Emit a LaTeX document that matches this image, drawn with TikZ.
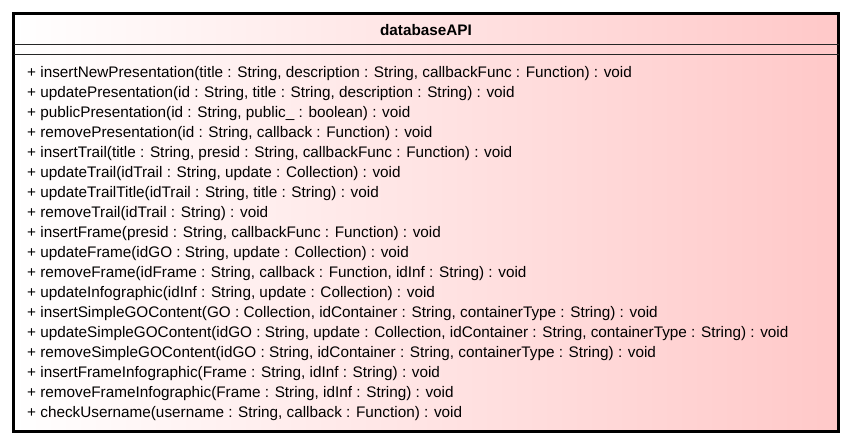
\documentclass[tikz,border=0pt]{standalone}
\usepackage{fontspec}
\setmainfont{Liberation Sans}
\begin{document}
\begin{tikzpicture}[x=1pt,y=-1pt,
  meth/.style={anchor=base west,inner sep=0pt,font=\fontsize{15.3}{18}\selectfont},
  ttl/.style={anchor=base,inner sep=0pt,font=\fontsize{15.3}{18}\selectfont\bfseries},
  sep/.style={line width=1.3pt,black!85}]
\useasboundingbox (0,0) rectangle (852,445);
\shade[left color=white,right color={rgb,255:red,255;green,200;blue,200}] (13.5,13.5) rectangle (838.5,431.5);
\node[draw=none,minimum width=825pt,minimum height=418pt,anchor=north west,inner sep=0pt] (box) at (13.5,13.5) {};
\draw[line width=3pt] (box.north west) rectangle (box.south east);
\coordinate (s1l) at (13.5,44.5); \coordinate (s1r) at (838.5,44.5);
\coordinate (s2l) at (13.5,54.5); \coordinate (s2r) at (838.5,54.5);
\draw[sep] (s1l) -- (s1r);
\draw[sep] (s2l) -- (s2r);
\node[ttl] (title) at (426,35) {databaseAPI};
\node[meth] (m1) at (27,77) {+ insertNewPresentation(title : String, description : String, callbackFunc : Function) : void};
\node[meth] (m2) at (27,97) {+ updatePresentation(id : String, title : String, description : String) : void};
\node[meth] (m3) at (27,117) {+ publicPresentation(id : String, public\_ : boolean) : void};
\node[meth] (m4) at (27,137) {+ removePresentation(id : String, callback : Function) : void};
\node[meth] (m5) at (27,157) {+ insertTrail(title : String, presid : String, callbackFunc : Function) : void};
\node[meth] (m6) at (27,177) {+ updateTrail(idTrail : String, update : Collection) : void};
\node[meth] (m7) at (27,197) {+ updateTrailTitle(idTrail : String, title : String) : void};
\node[meth] (m8) at (27,217) {+ removeTrail(idTrail : String) : void};
\node[meth] (m9) at (27,237) {+ insertFrame(presid : String, callbackFunc : Function) : void};
\node[meth] (m10) at (27,257) {+ updateFrame(idGO : String, update : Collection) : void};
\node[meth] (m11) at (27,277) {+ removeFrame(idFrame : String, callback : Function, idInf : String) : void};
\node[meth] (m12) at (27,297) {+ updateInfographic(idInf : String, update : Collection) : void};
\node[meth] (m13) at (27,317) {+ insertSimpleGOContent(GO : Collection, idContainer : String, containerType : String) : void};
\node[meth] (m14) at (27,337) {+ updateSimpleGOContent(idGO : String, update : Collection, idContainer : String, containerType : String) : void};
\node[meth] (m15) at (27,357) {+ removeSimpleGOContent(idGO : String, idContainer : String, containerType : String) : void};
\node[meth] (m16) at (27,377) {+ insertFrameInfographic(Frame : String, idInf : String) : void};
\node[meth] (m17) at (27,397) {+ removeFrameInfographic(Frame : String, idInf : String) : void};
\node[meth] (m18) at (27,417) {+ checkUsername(username : String, callback : Function) : void};
\end{tikzpicture}
\end{document}
